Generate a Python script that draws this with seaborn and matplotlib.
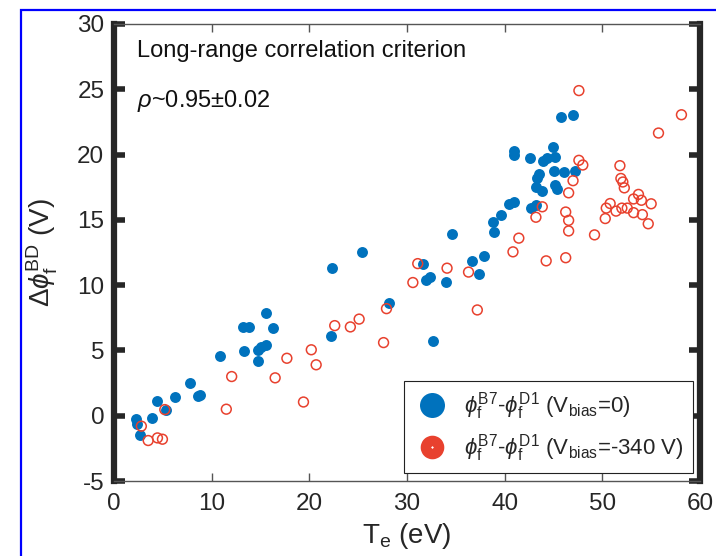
import matplotlib
matplotlib.use("Agg")
import matplotlib.pyplot as plt
import seaborn as sns
import pandas as pd
from matplotlib.lines import Line2D
from matplotlib.patches import Rectangle

# ---- data ----
blue_te = [2.3, 2.4, 2.7, 3.9, 4.45, 5.3, 6.2, 7.8, 8.6, 8.85, 10.9, 13.2, 13.8, 13.3,
           14.7, 15.1, 15.6, 14.7, 15.6, 16.3, 22.2, 22.3, 25.35, 28.2, 31.65, 31.9,
           32.4, 32.7, 34.0, 34.6, 36.65, 37.85, 37.4, 38.8, 38.95, 39.6, 40.4, 41.0,
           41.0, 41.0, 42.6, 42.7, 43.25, 43.5, 43.35, 43.2, 43.85, 43.9, 44.3, 44.9,
           45.2, 45.05, 46.05, 47.2, 45.2, 45.35, 45.8, 47.0]
blue_dphi = [-0.27, -0.6, -1.45, -0.15, 1.15, 0.47, 1.4, 2.5, 1.5, 1.6, 4.6, 6.8, 6.8, 4.95,
             5.0, 5.3, 5.4, 4.16, 7.9, 6.7, 6.1, 11.3, 12.55, 8.66, 11.65, 10.4,
             10.6, 5.76, 10.26, 13.95, 11.86, 12.24, 10.85, 14.8, 14.07, 15.4, 16.2, 16.4,
             20.25, 19.94, 19.7, 15.9, 16.1, 18.5, 18.2, 17.5, 17.2, 19.5, 19.7, 20.56,
             19.8, 18.78, 18.67, 18.78, 17.7, 17.4, 22.85, 23.05]

red_te = [2.8, 3.5, 4.45, 4.96, 5.2, 11.5, 12.05, 16.5, 17.7, 19.4, 20.2, 20.7, 22.6,
          24.2, 25.1, 27.6, 27.9, 30.6, 31.1, 34.1, 36.3, 37.2, 40.85, 41.45, 43.2,
          43.85, 44.25, 46.25, 46.25, 46.55, 46.55, 46.55, 47.0, 47.6, 48.0, 47.6,
          49.2, 50.3, 50.4, 50.8, 51.4, 51.8, 51.9, 52.1, 52.25, 52.0, 52.55, 53.2,
          53.2, 53.7, 54.0, 54.1, 54.7, 55.0, 55.75, 58.1]
red_dphi = [-0.8, -1.9, -1.7, -1.8, 0.47, 0.5, 3.0, 2.9, 4.4, 1.05, 5.05, 3.9, 6.9,
            6.8, 7.4, 5.6, 8.2, 10.2, 11.65, 11.3, 11.0, 8.1, 12.55, 13.6, 15.2,
            16.0, 11.86, 12.1, 15.6, 14.96, 14.15, 17.07, 18.0, 19.56, 19.2, 24.9,
            13.85, 15.1, 15.9, 16.25, 15.67, 19.15, 18.17, 17.9, 17.45, 15.9, 15.9, 15.55,
            16.6, 16.95, 16.5, 15.4, 14.7, 16.23, 21.65, 23.05]

x_ticks = [0, 10, 20, 30, 40, 50, 60]
y_ticks = [-5, 0, 5, 10, 15, 20, 25, 30]

label_blue = r'$\phi_\mathrm{f}^\mathrm{B7}$-$\phi_\mathrm{f}^\mathrm{D1}$ (V$_\mathrm{bias}$=0)'
label_red = r'$\phi_\mathrm{f}^\mathrm{B7}$-$\phi_\mathrm{f}^\mathrm{D1}$ (V$_\mathrm{bias}$=-340 V)'

BLUE = '#0072BD'
RED = '#E8412E'

sns.set_theme(style='white')
plt.rcParams['font.family'] = ['Liberation Sans', 'DejaVu Sans']
plt.rcParams['mathtext.fontset'] = 'custom'
plt.rcParams['mathtext.rm'] = 'Liberation Sans'
plt.rcParams['mathtext.it'] = 'Liberation Sans:italic'
plt.rcParams['mathtext.bf'] = 'Liberation Sans:bold'
plt.rcParams['axes.unicode_minus'] = False

fig = plt.figure(figsize=(7.16, 5.56), dpi=100)
ax = fig.add_axes([114/716, 1-481/556, (700-114)/716, (481-24)/556])

df_b = pd.DataFrame({'Te': blue_te, 'dphi': blue_dphi})
df_r = pd.DataFrame({'Te': red_te, 'dphi': red_dphi})

sns.scatterplot(data=df_r, x='Te', y='dphi', ax=ax, s=50, color=RED, linewidth=1.1,
                edgecolor=RED, legend=False, zorder=3)
ax.collections[-1].set_facecolor('none')
sns.scatterplot(data=df_b, x='Te', y='dphi', ax=ax, s=62, color=BLUE, linewidth=0,
                legend=False, zorder=2)

ax.set_xlim(0, 60)
ax.set_ylim(-5, 30)
ax.set_xticks(x_ticks)
ax.set_yticks(y_ticks)

for side in ['left', 'right']:
    ax.spines[side].set_linewidth(4.5)
    ax.spines[side].set_color('#262626')
for side in ['top', 'bottom']:
    ax.spines[side].set_linewidth(1.0)
    ax.spines[side].set_color('#555555')

ax.tick_params(axis='y', which='both', direction='in', left=True, right=True,
               length=8, width=4, color='#262626', labelsize=17.5, pad=7,
               labelcolor='#262626')
ax.tick_params(axis='x', which='both', direction='in', bottom=True, top=True,
               length=6, width=1, color='#555555', labelsize=17.5, pad=9,
               labelcolor='#262626')

ax.set_xlabel(r'T$_\mathrm{e}$ (eV)', fontsize=20, color='#262626', labelpad=4)
ax.set_ylabel(r'$\Delta\phi_\mathrm{f}^\mathrm{BD}$ (V)', fontsize=20, color='#262626', labelpad=12)

ax.text(0.04, 0.941, 'Long-range correlation criterion', transform=ax.transAxes,
        fontsize=17, color='#111111', ha='left', va='center')
ax.text(0.04, 0.832, r'$\rho$~0.95$\pm$0.02', transform=ax.transAxes,
        fontsize=17, color='#111111', ha='left', va='center')

h_blue = Line2D([], [], linestyle='none', marker='o', markersize=18,
                markerfacecolor=BLUE, markeredgecolor=BLUE, markeredgewidth=0)
h_red = Line2D([], [], linestyle='none', marker='o', markersize=9.5,
               markerfacecolor='white', markeredgecolor=RED, markeredgewidth=7.5)
leg = ax.legend([h_blue, h_red], [label_blue, label_red], loc='lower right',
                bbox_to_anchor=((693-114)/586, (481-473)/457), borderaxespad=0,
                fontsize=16, frameon=True, fancybox=False, framealpha=1,
                edgecolor='#222222', handletextpad=0.6, labelspacing=0.45,
                borderpad=0.4, handlelength=1.7)
leg.get_frame().set_linewidth(0.8)

fig.patches.append(Rectangle((21/716, -0.1), 1.2, 1.1 - 10/556, transform=fig.transFigure,
                             fill=False, edgecolor='#0000FF', linewidth=1.6, zorder=0))

fig.savefig('out.png', dpi=100)
